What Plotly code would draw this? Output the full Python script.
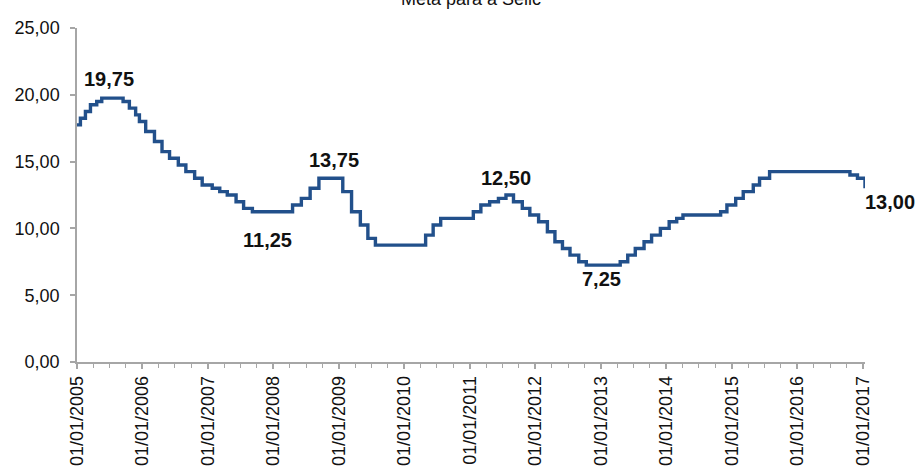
import plotly.graph_objects as go

# Copom decisions: date the new Selic target took effect and the target (% a.a.)
dates = [
    "2005-01-01", "2005-01-20", "2005-02-17", "2005-03-17", "2005-04-21", "2005-05-19",
    "2005-09-15", "2005-10-20", "2005-11-24", "2005-12-15",
    "2006-01-19", "2006-03-09", "2006-04-20", "2006-06-01", "2006-07-20", "2006-08-31",
    "2006-10-19", "2006-11-30",
    "2007-01-25", "2007-03-08", "2007-04-19", "2007-06-07", "2007-07-19", "2007-09-06",
    "2008-04-17", "2008-06-05", "2008-07-24", "2008-09-11",
    "2009-01-22", "2009-03-12", "2009-04-30", "2009-06-11", "2009-07-23",
    "2010-04-29", "2010-06-10", "2010-07-22",
    "2011-01-20", "2011-03-03", "2011-04-21", "2011-06-09", "2011-07-21", "2011-09-01",
    "2011-10-20", "2011-12-01",
    "2012-01-19", "2012-03-08", "2012-04-19", "2012-05-31", "2012-07-12", "2012-08-30",
    "2012-10-11",
    "2013-04-18", "2013-05-30", "2013-07-11", "2013-08-29", "2013-10-10", "2013-11-28",
    "2014-01-16", "2014-02-27", "2014-04-03", "2014-10-30", "2014-12-04",
    "2015-01-22", "2015-03-05", "2015-04-30", "2015-06-04", "2015-07-30",
    "2016-10-20", "2016-12-01", "2017-01-12",
]
selic = [
    17.75, 18.25, 18.75, 19.25, 19.50, 19.75,
    19.50, 19.00, 18.50, 18.00,
    17.25, 16.50, 15.75, 15.25, 14.75, 14.25,
    13.75, 13.25,
    13.00, 12.75, 12.50, 12.00, 11.50, 11.25,
    11.75, 12.25, 13.00, 13.75,
    12.75, 11.25, 10.25, 9.25, 8.75,
    9.50, 10.25, 10.75,
    11.25, 11.75, 12.00, 12.25, 12.50, 12.00,
    11.50, 11.00,
    10.50, 9.75, 9.00, 8.50, 8.00, 7.50,
    7.25,
    7.50, 8.00, 8.50, 9.00, 9.50, 10.00,
    10.50, 10.75, 11.00, 11.25, 11.75,
    12.25, 12.75, 13.25, 13.75, 14.25,
    14.00, 13.75, 13.00,
]

# Highlighted values: (anchor date, value, label text)
label_dates = ["2005-07-01", "2007-12-01", "2008-12-05", "2011-07-20", "2013-01-06", "2017-01-12"]
label_values = [19.75, 11.25, 13.75, 12.50, 7.25, 13.00]
label_texts = ["19,75", "11,25", "13,75", "12,50", "7,25", "13,00"]
label_shifts = [(0, 19), (0, -28), (0, 18), (0, 17), (0, -14), (-2, -14)]
label_anchor = ["center", "center", "center", "center", "center", "left"]

title_text = "Meta para a Selic"
ytick_vals = [0, 5, 10, 15, 20, 25]

FONT = "Liberation Sans, Arial, sans-serif"
TXT = "#111111"
AXC = "#a6a6a6"
LINEC = "#22508b"

fig = go.Figure()
fig.add_trace(go.Scatter(
    x=dates, y=selic, mode="lines", line=dict(color=LINEC, width=3.4, shape="hv"),
    showlegend=False, hoverinfo="x+y",
))

for d, v, t, (xs, ys), xa in zip(label_dates, label_values, label_texts, label_shifts, label_anchor):
    fig.add_annotation(x=d, y=v, text="<b>%s</b>" % t, showarrow=False,
                       xanchor=xa, yanchor="middle", xshift=xs, yshift=ys,
                       font=dict(family=FONT, size=20, color=TXT))

fig.add_annotation(x=0.5, y=1.087, xref="paper", yref="paper", text=title_text,
                   showarrow=False, xanchor="center", yanchor="middle",
                   font=dict(family=FONT, size=18, color=TXT))

fig.update_layout(
    width=917, height=468,
    margin=dict(l=77, r=52, t=28, b=106, autoexpand=False),
    paper_bgcolor="white", plot_bgcolor="white",
    separators=",.",
    font=dict(family=FONT, size=17, color=TXT),
)
fig.update_xaxes(
    type="date", range=["2005-01-01", "2017-01-12"], automargin=False,
    tickmode="linear", tick0="2005-01-01", dtick="M12", tickformat="%d/%m/%Y",
    tickangle=-90, tickfont=dict(size=18, color=TXT),
    showline=True, linecolor=AXC, linewidth=1.5,
    ticks="outside", ticklen=5, tickcolor=AXC, tickwidth=1.5,
    minor=dict(dtick="M3", tick0="2005-01-01", ticks="outside", ticklen=4, tickcolor=AXC, tickwidth=1.2),
    showgrid=False, zeroline=False,
)
fig.update_yaxes(
    range=[0, 25], tickvals=ytick_vals, tickformat=".2f", automargin=False,
    tickfont=dict(size=18, color=TXT),
    showline=True, linecolor=AXC, linewidth=1.5,
    ticks="outside", ticklen=5, tickcolor=AXC, tickwidth=1.5,
    ticklabelstandoff=7,
    showgrid=False, zeroline=False,
)

fig.write_html("out.html", config={"displayModeBar": False},
               post_script="document.body.style.margin='0px';")
